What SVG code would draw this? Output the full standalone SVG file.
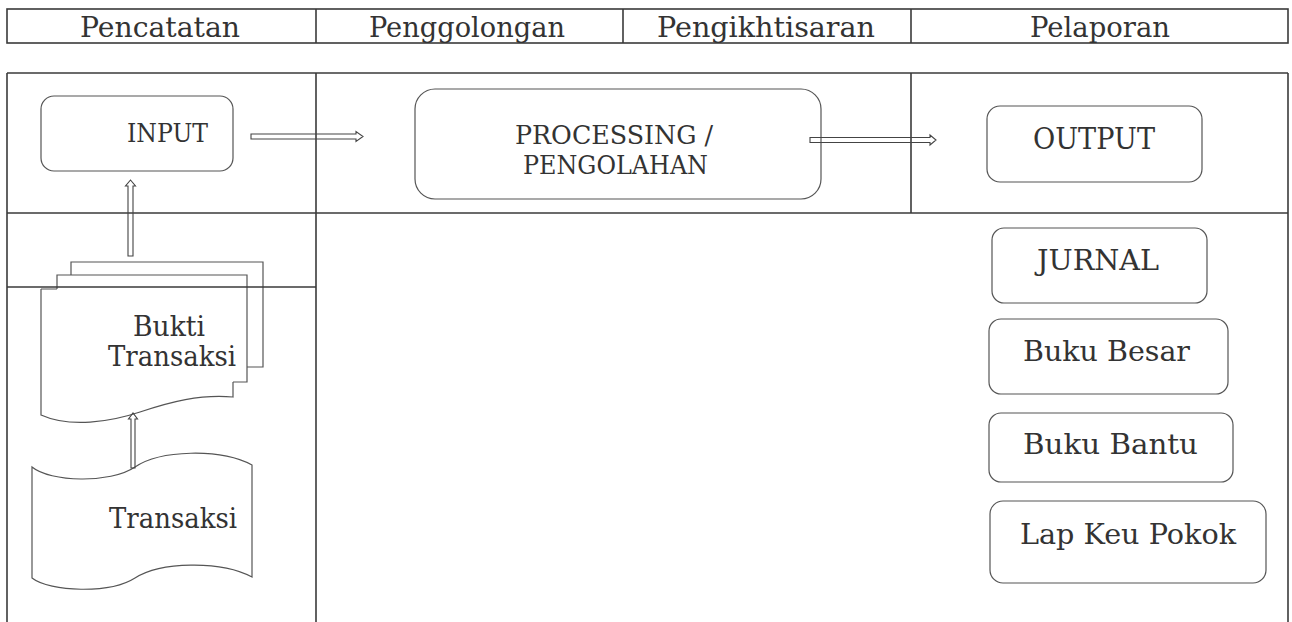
<svg xmlns="http://www.w3.org/2000/svg" width="1292" height="622" viewBox="0 0 1292 622">
<style>
  .t { font-family: "DejaVu Serif", "Liberation Serif", serif; font-size: 27px; fill: #333; }
  .h { font-family: "DejaVu Serif", "Liberation Serif", serif; font-size: 27px; fill: #333; }
  .grid { stroke: #3a3a3a; stroke-width: 1.6; fill: none; }
  .box { fill: none; stroke: #555; stroke-width: 1.2; }
  .doc { fill: none; stroke: #555; stroke-width: 1.2; }
  .arr { fill: none; stroke: #444; stroke-width: 1.1; }
</style>
<rect width="1292" height="622" fill="#ffffff"/>

<g id="header">
  <rect class="grid" x="7" y="9" width="1281" height="34"/>
  <line class="grid" x1="316" y1="9" x2="316" y2="43"/>
  <line class="grid" x1="623" y1="9" x2="623" y2="43"/>
  <line class="grid" x1="911" y1="9" x2="911" y2="43"/>
  <text class="h" x="80" y="37" textLength="160" lengthAdjust="spacingAndGlyphs">Pencatatan</text>
  <text class="h" x="369" y="37" textLength="196" lengthAdjust="spacingAndGlyphs">Penggolongan</text>
  <text class="h" x="657" y="37" textLength="218" lengthAdjust="spacingAndGlyphs">Pengikhtisaran</text>
  <text class="h" x="1030" y="37" textLength="140" lengthAdjust="spacingAndGlyphs">Pelaporan</text>
</g>

<g id="table">
  <line class="grid" x1="7" y1="73" x2="1288" y2="73"/>
  <line class="grid" x1="7" y1="73" x2="7" y2="622"/>
  <line class="grid" x1="1288" y1="73" x2="1288" y2="622"/>
  <line class="grid" x1="316" y1="73" x2="316" y2="622"/>
  <line class="grid" x1="911" y1="73" x2="911" y2="213"/>
  <line class="grid" x1="7" y1="213" x2="1288" y2="213"/>
</g>

<g id="input">
  <rect class="box" x="41" y="96" width="192" height="75" rx="13"/>
  <text class="t" x="127" y="142" style="font-size:26px" textLength="81" lengthAdjust="spacingAndGlyphs">INPUT</text>
</g>

<g id="processing">
  <rect class="box" x="415" y="89" width="406" height="110" rx="20"/>
  <text class="t" x="515" y="144" style="font-size:26px" textLength="198" lengthAdjust="spacingAndGlyphs">PROCESSING /</text>
  <text class="t" x="523" y="174" style="font-size:26px" textLength="185" lengthAdjust="spacingAndGlyphs">PENGOLAHAN</text>
</g>

<g id="output">
  <rect class="box" x="987" y="106" width="215" height="76" rx="13"/>
  <text class="t" x="1033" y="149" style="font-size:29px" textLength="122" lengthAdjust="spacingAndGlyphs">OUTPUT</text>
</g>

<g id="jurnal">
  <rect class="box" x="992" y="228" width="215" height="75" rx="12"/>
  <text class="t" x="1037" y="270" style="font-size:28px" textLength="122" lengthAdjust="spacingAndGlyphs">JURNAL</text>
</g>

<g id="buku-besar">
  <rect class="box" x="989" y="319" width="239" height="75" rx="12"/>
  <text class="t" x="1023" y="361" style="font-size:28px" textLength="167" lengthAdjust="spacingAndGlyphs">Buku Besar</text>
</g>

<g id="buku-bantu">
  <rect class="box" x="989" y="413" width="244" height="69" rx="12"/>
  <text class="t" x="1023" y="454" style="font-size:28px" textLength="175" lengthAdjust="spacingAndGlyphs">Buku Bantu</text>
</g>

<g id="lap-keu-pokok">
  <rect class="box" x="990" y="501" width="276" height="82" rx="13"/>
  <text class="t" x="1020" y="544" style="font-size:28px" textLength="216" lengthAdjust="spacingAndGlyphs">Lap Keu Pokok</text>
</g>

<g id="bukti-transaksi">
  <path class="doc" d="M71,275 L71,262 L263,262 L263,367 L247,367"/>
  <path class="doc" d="M57,289 L57,275 L247,275 L247,382 L233,382"/>
  <path class="doc" d="M41,289 L57,289 M41,289 L41,415 C70,428 110,422 140,412 C170,402 200,394 233,397 L233,382"/>
  <text class="t" x="133" y="336" textLength="72" lengthAdjust="spacingAndGlyphs">Bukti</text>
  <text class="t" x="108" y="366" textLength="128" lengthAdjust="spacingAndGlyphs">Transaksi</text>
</g>

<g id="divider-left">
  <line class="grid" x1="7" y1="287" x2="316" y2="287"/>
</g>

<g id="transaksi">
  <path class="doc" d="M32,467 C50,482 110,484 135,467 C160,450 220,448 252,465 L252,577 C220,560 160,562 135,578 C110,594 50,592 32,578 Z"/>
  <text class="t" x="109" y="528" textLength="128" lengthAdjust="spacingAndGlyphs">Transaksi</text>
</g>

<g id="connectors">
  <polygon class="arr" points="251,134 356,134 356,131.5 363,136.5 356,141.5 356,139 251,139"/>
  <polygon class="arr" points="810,137.5 930,137.5 930,135 936,140 930,145 930,142.5 810,142.5"/>
  <polygon class="arr" points="128,256 128,186 125.5,186 130.5,180 135.5,186 133,186 133,256"/>
  <polygon class="arr" points="131,468 131,419 128.5,419 133,413 137.5,419 135,419 135,468"/>
</g>
</svg>
